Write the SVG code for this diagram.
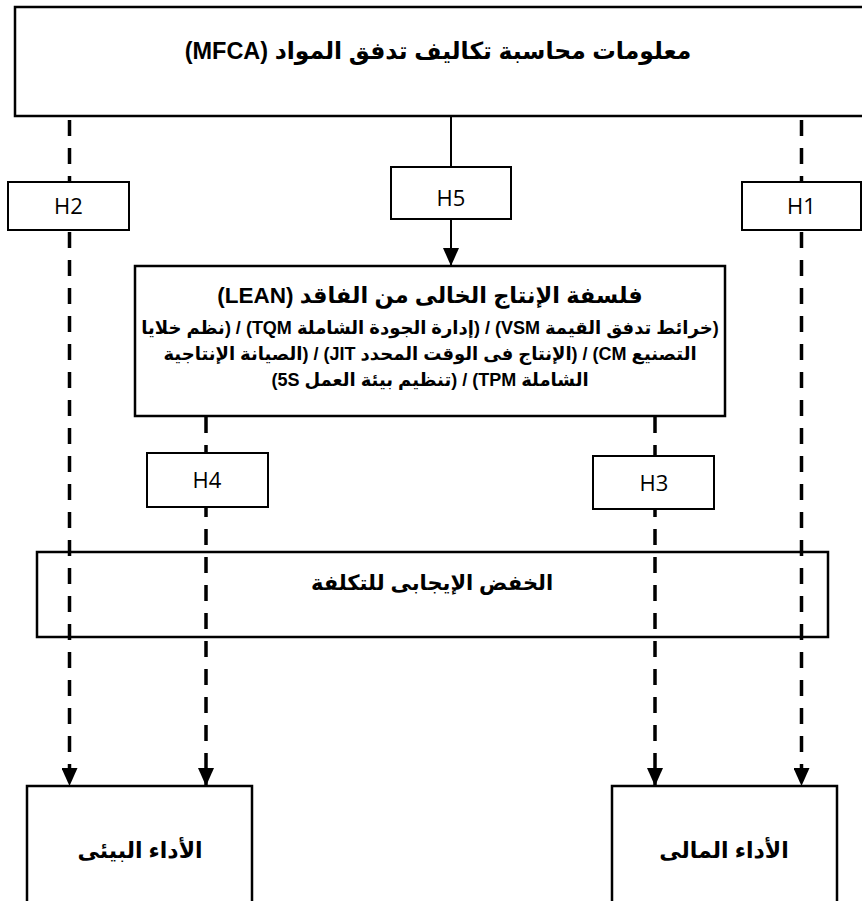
<svg xmlns="http://www.w3.org/2000/svg" width="862" height="901" viewBox="0 0 862 901">
<style>
.box{fill:#fff;stroke:#000;stroke-width:2.5}
.open{fill:none;stroke:#000;stroke-width:2.5}
.hbox{fill:#fff;stroke:#000;stroke-width:2}
.dash{fill:none;stroke:#000;stroke-width:3.5;stroke-dasharray:16 12}
.solid{fill:none;stroke:#000;stroke-width:2}
.ar{font-family:"Liberation Sans","DejaVu Sans",sans-serif;font-weight:bold;fill:#000;text-anchor:middle;direction:rtl}
.h{font-family:"Open Sans","Liberation Sans",sans-serif;font-size:22px;fill:#000;text-anchor:middle}
</style>
<defs>
<marker id="arr" markerUnits="userSpaceOnUse" markerWidth="18" markerHeight="16" viewBox="0 0 18 16" refX="18" refY="8" orient="auto">
<path d="M0,0 L18,8 L0,16 z" fill="#000"/>
</marker>
</defs>
<g id="connectors">
<line class="solid" x1="451" y1="116" x2="451" y2="167"/>
<line class="solid" x1="451" y1="219" x2="451" y2="266" marker-end="url(#arr)"/>
<line class="dash" x1="69.5" y1="120" x2="69.5" y2="786" marker-end="url(#arr)"/>
<line class="dash" x1="801.5" y1="120" x2="801.5" y2="786" marker-end="url(#arr)"/>
<line class="dash" x1="206" y1="417" x2="206" y2="786" marker-end="url(#arr)"/>
<line class="dash" x1="655" y1="417" x2="655" y2="786" marker-end="url(#arr)"/>
</g>
<g id="mfca">
<rect class="box" x="15" y="7" width="860" height="109"/>
<text class="ar" x="438" y="59" font-size="23.5">معلومات محاسبة تكاليف تدفق المواد (MFCA)</text>
</g>
<g id="h2"><rect class="hbox" x="8" y="182" width="121" height="48"/><text class="h" x="68.5" y="214">H2</text></g>
<g id="h1"><rect class="hbox" x="742" y="182" width="119" height="48"/><text class="h" x="801.5" y="214">H1</text></g>
<g id="h5"><rect class="hbox" x="391" y="167" width="120" height="52"/><text class="h" x="451" y="206">H5</text></g>
<g id="lean">
<rect class="box" x="135" y="266" width="590" height="150"/>
<text class="ar" x="430" y="303" font-size="22.5">فلسفة الإنتاج الخالى من الفاقد (LEAN)</text>
<text class="ar" x="430" y="334" font-size="18">(خرائط تدفق القيمة VSM) / (إدارة الجودة الشاملة TQM) / (نظم خلايا</text>
<text class="ar" x="430" y="360" font-size="18">التصنيع CM) / (الإنتاج فى الوقت المحدد JIT) / (الصيانة الإنتاجية</text>
<text class="ar" x="430" y="386" font-size="18">الشاملة TPM) / (تنظيم بيئة العمل 5S)</text>
</g>
<g id="h4"><rect class="hbox" x="147" y="453" width="121" height="54"/><text class="h" x="207" y="488">H4</text></g>
<g id="h3"><rect class="hbox" x="593" y="456" width="121" height="53"/><text class="h" x="654" y="491">H3</text></g>
<g id="cost">
<rect class="open" x="37" y="552" width="791" height="85"/>
<text class="ar" x="432" y="590" font-size="21">الخفض الإيجابى للتكلفة</text>
</g>
<g id="env">
<rect class="box" x="27" y="786" width="225" height="130"/>
<text class="ar" x="140" y="858" font-size="22">الأداء البيئى</text>
</g>
<g id="fin">
<rect class="box" x="612" y="786" width="225" height="130"/>
<text class="ar" x="724" y="858" font-size="22">الأداء المالى</text>
</g>
</svg>
